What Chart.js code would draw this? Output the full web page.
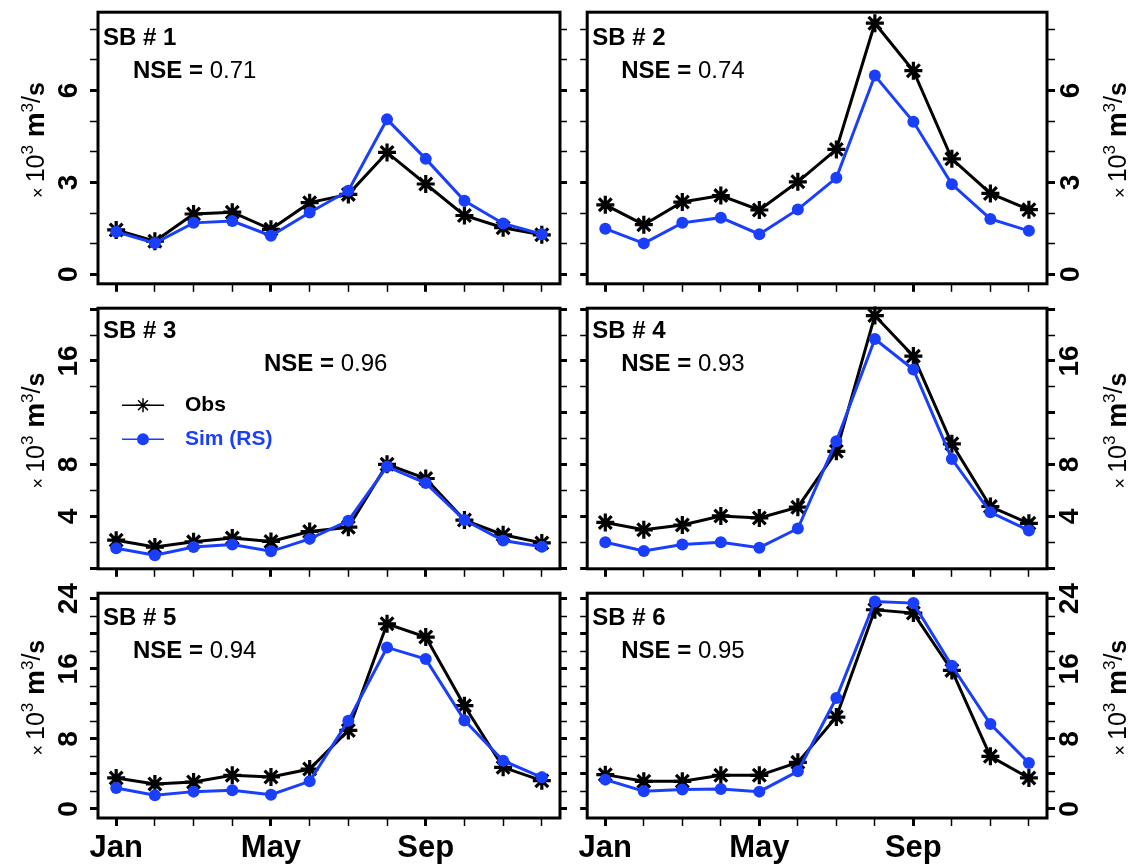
<!DOCTYPE html>
<html>
<head>
<meta charset="utf-8">
<script src="https://cdn.jsdelivr.net/npm/chart.js@4.4.1/dist/chart.umd.min.js"></script>
<style>
  html, body { margin: 0; padding: 0; background: #fff; }
  body { width: 1148px; height: 865px; position: relative; overflow: hidden; }
  canvas { position: absolute; }
</style>
</head>
<body>
<script>
// months on the x axis
const months = [1, 2, 3, 4, 5, 6, 7, 8, 9, 10, 11, 12];
const monthNames = ["Jan", "Feb", "Mar", "Apr", "May", "Jun", "Jul", "Aug", "Sep", "Oct", "Nov", "Dec"];
const labeledMonths = [1, 5, 9];

// discharge, x 10^3 m3/s
const sb1Obs = [1.45, 1.08, 1.97, 2.03, 1.47, 2.34, 2.61, 3.98, 2.95, 1.92, 1.52, 1.29];
const sb1Sim = [1.39, 1.02, 1.68, 1.74, 1.26, 2.02, 2.73, 5.06, 3.77, 2.40, 1.66, 1.31];
const sb2Obs = [2.27, 1.62, 2.36, 2.57, 2.10, 3.02, 4.08, 8.20, 6.65, 3.77, 2.64, 2.11];
const sb2Sim = [1.49, 1.01, 1.68, 1.85, 1.31, 2.12, 3.15, 6.49, 4.98, 2.94, 1.81, 1.42];
const sb3Obs = [2.16, 1.63, 2.03, 2.33, 2.06, 2.83, 3.16, 8.02, 6.92, 3.71, 2.58, 1.95];
const sb3Sim = [1.53, 1.00, 1.63, 1.83, 1.30, 2.26, 3.66, 7.84, 6.57, 3.71, 2.13, 1.65];
const sb4Obs = [3.53, 2.96, 3.33, 4.03, 3.88, 4.71, 9.02, 19.5, 16.37, 9.6, 4.76, 3.46];
const sb4Sim = [2.00, 1.33, 1.83, 2.00, 1.58, 3.06, 9.8, 17.69, 15.34, 8.42, 4.31, 2.91];
const sb5Obs = [3.54, 2.85, 3.08, 3.84, 3.65, 4.56, 8.97, 21.14, 19.62, 11.79, 4.75, 3.23];
const sb5Sim = [2.40, 1.56, 1.98, 2.13, 1.63, 3.16, 10.08, 18.44, 17.11, 10.11, 5.51, 3.61];
const sb6Obs = [3.92, 3.16, 3.16, 3.84, 3.84, 5.32, 10.49, 22.74, 22.36, 15.82, 6.01, 3.54];
const sb6Sim = [3.35, 2.02, 2.21, 2.28, 1.98, 4.30, 12.66, 23.69, 23.5, 16.35, 9.70, 5.25];

const panelNames = ["SB # 1", "SB # 2", "SB # 3", "SB # 4", "SB # 5", "SB # 6"];
const nseValues = ["0.71", "0.74", "0.96", "0.93", "0.94", "0.95"];
const seriesNames = ["Obs", "Sim (RS)"];

// y axis per row
const rowYMin = [-0.31, -0.05, -1.03];
const rowYMax = [8.56, 20.07, 24.63];
const rowTickStep = [1, 2, 2];
const rowTickLabels = [[0, 3, 6], [4, 8, 16], [0, 8, 16, 24]];
const rowMajorTicks = [[0, 3, 6], [0, 4, 8, 12, 16, 20], [0, 4, 8, 12, 16, 20, 24]];

const obsSeries = [sb1Obs, sb2Obs, sb3Obs, sb4Obs, sb5Obs, sb6Obs];
const simSeries = [sb1Sim, sb2Sim, sb3Sim, sb4Sim, sb5Sim, sb6Sim];

const FONT = '"Liberation Sans", Arial, sans-serif';
const BLUE = "#1a3ffc";
Chart.defaults.font.family = FONT;

// page layout
const cols = [
  { left: 0, width: 575, axL: 98, axR: 15, side: "left", titleX: 44, tickPad: [13, 5] },
  { left: 575, width: 573, axL: 12, axR: 101, side: "right", titleX: 551, tickPad: [8, 0] }
];
const rows = [
  { top: 0, height: 296, pad: 5, xh: 11, nameDy: 33, nseDy: 66 },
  { top: 296, height: 285, pad: 6, xh: 11, nameDy: 30, nseDy: 63 },
  { top: 581, height: 284, pad: 12, xh: 47, nameDy: 32, nseDy: 65 }
];

function drawStar(ctx, x, y, r) {
  ctx.beginPath();
  for (let k = 0; k < 4; k++) {
    const a = k * Math.PI / 4;
    ctx.moveTo(x - r * Math.cos(a), y - r * Math.sin(a));
    ctx.lineTo(x + r * Math.cos(a), y + r * Math.sin(a));
  }
  ctx.stroke();
}

function drawYTitle(ctx, bx, cy) {
  const segs = [
    ["\u00d7 ", "normal 18px", 0],
    ["10", "normal 25px", 0],
    ["3", "normal 17px", 11],
    [" m", "bold 28px", 0],
    ["3", "normal 17px", 11],
    ["/", "normal 25px", 4],
    ["s", "bold 25px", 0]
  ];
  ctx.save();
  ctx.translate(bx, cy);
  ctx.rotate(-Math.PI / 2);
  ctx.textBaseline = "alphabetic";
  ctx.textAlign = "left";
  let total = 0;
  segs.forEach(s => { ctx.font = s[1] + " " + FONT; total += ctx.measureText(s[0]).width; });
  let x = -total / 2;
  segs.forEach(s => {
    ctx.font = s[1] + " " + FONT;
    ctx.fillText(s[0], x, -s[2]);
    x += ctx.measureText(s[0]).width;
  });
  ctx.restore();
}

const decor = {
  id: "decor",
  afterDraw(chart, args, o) {
    const { ctx, chartArea: a } = chart;
    ctx.save();
    ctx.strokeStyle = "#000";
    ctx.lineWidth = 3;
    ctx.strokeRect(a.left, a.top, a.right - a.left, a.bottom - a.top);

    ctx.fillStyle = "#000";
    ctx.textBaseline = "alphabetic";
    ctx.textAlign = "left";
    ctx.font = "bold 24px " + FONT;
    ctx.fillText(o.name, a.left + 5, a.top + o.nameDy);

    ctx.font = "bold 24px " + FONT;
    const lead = "NSE = ";
    ctx.fillText(lead, a.left + o.nseDx, a.top + o.nseDy);
    const w = ctx.measureText(lead).width;
    ctx.font = "normal 24px " + FONT;
    ctx.fillText(o.nse, a.left + o.nseDx + w, a.top + o.nseDy);

    if (o.legend) {
      const lx = a.left + 24, ly1 = a.top + 97, ly2 = a.top + 131;
      ctx.lineWidth = 1.5;
      ctx.strokeStyle = "#000";
      ctx.beginPath(); ctx.moveTo(lx, ly1); ctx.lineTo(lx + 42, ly1); ctx.stroke();
      drawStar(ctx, lx + 21, ly1, 7);
      ctx.strokeStyle = BLUE;
      ctx.beginPath(); ctx.moveTo(lx, ly2); ctx.lineTo(lx + 42, ly2); ctx.stroke();
      ctx.fillStyle = BLUE;
      ctx.beginPath(); ctx.arc(lx + 21, ly2, 6, 0, Math.PI * 2); ctx.fill();
      ctx.font = "bold 21px " + FONT;
      ctx.textBaseline = "middle";
      ctx.fillStyle = "#000";
      ctx.fillText(seriesNames[0], lx + 63, ly1);
      ctx.fillStyle = BLUE;
      ctx.fillText(seriesNames[1], lx + 63, ly2);
    }

    ctx.fillStyle = "#000";
    drawYTitle(ctx, o.titleX, (a.top + a.bottom) / 2 - 8);
    ctx.restore();
  }
};

function makePanel(idx) {
  const r = Math.floor(idx / 2), c = idx % 2;
  const col = cols[c], row = rows[r];
  const canvas = document.createElement("canvas");
  canvas.width = col.width;
  canvas.height = row.height;
  canvas.style.left = col.left + "px";
  canvas.style.top = row.top + "px";
  document.body.appendChild(canvas);

  const labelSide = col.side;
  const otherSide = col.side === "left" ? "right" : "left";
  const labelW = col.side === "left" ? col.axL : col.axR;
  const otherW = col.side === "left" ? col.axR : col.axL;
  const isMajor = ctx => rowMajorTicks[r].includes(ctx.tick.value);

  const yCommon = {
    type: "linear",
    min: rowYMin[r],
    max: rowYMax[r],
    border: { display: false },
    grid: {
      drawOnChartArea: false,
      tickLength: 8,
      tickColor: "#000",
      tickWidth: ctx => isMajor(ctx) ? 3 : 1.5
    }
  };

  const toXY = arr => months.map((m, i) => ({ x: m, y: arr[i] }));

  new Chart(canvas, {
    type: "line",
    data: {
      datasets: [
        {
          label: seriesNames[0],
          data: toXY(obsSeries[idx]),
          borderColor: "#000",
          backgroundColor: "#000",
          borderWidth: 3,
          pointStyle: "star",
          pointRadius: 9,
          pointBorderWidth: 3.2,
          pointBorderColor: "#000",
          tension: 0,
          clip: false,
          order: 2
        },
        {
          label: seriesNames[1],
          data: toXY(simSeries[idx]),
          borderColor: BLUE,
          backgroundColor: BLUE,
          borderWidth: 3,
          pointStyle: "circle",
          pointRadius: 6,
          pointBorderWidth: 0,
          pointBackgroundColor: BLUE,
          tension: 0,
          clip: false,
          order: 1
        }
      ]
    },
    options: {
      responsive: false,
      animation: false,
      events: [],
      layout: { padding: { top: row.pad, left: 0, right: 0, bottom: 0 } },
      plugins: {
        legend: { display: false },
        tooltip: { enabled: false },
        decor: {
          name: panelNames[idx],
          nse: nseValues[idx],
          nameDy: row.nameDy,
          nseDy: row.nseDy,
          nseDx: idx === 2 ? 166 : (c === 0 ? 35 : 34),
          legend: idx === 2,
          titleX: col.titleX
        }
      },
      scales: {
        x: {
          type: "linear",
          position: "bottom",
          min: 0.53,
          max: 12.47,
          afterFit: s => { s.height = row.xh; s.paddingLeft = 0; s.paddingRight = 0; },
          border: { display: false },
          grid: {
            drawOnChartArea: false,
            tickLength: 8,
            tickColor: "#000",
            tickWidth: ctx => labeledMonths.includes(ctx.tick.value) ? 3 : 1.5
          },
          ticks: {
            stepSize: 1,
            autoSkip: false,
            includeBounds: false,
            minRotation: 0,
            maxRotation: 0,
            padding: 4,
            color: "#000",
            font: { size: 31, weight: "bold" },
            callback: v => (r === 2 && labeledMonths.includes(v)) ? monthNames[v - 1] : ""
          }
        },
        y: Object.assign({}, yCommon, {
          position: labelSide,
          afterFit: s => { s.width = labelW; s.paddingTop = 0; s.paddingBottom = 0; },
          ticks: {
            stepSize: rowTickStep[r],
            autoSkip: false,
            includeBounds: false,
            minRotation: 90,
            maxRotation: 90,
            crossAlign: "center",
            padding: col.tickPad[r === 0 ? 0 : 1],
            color: "#000",
            font: { size: 28, weight: "bold" },
            callback: v => rowTickLabels[r].includes(v) ? String(v) : ""
          }
        }),
        y2: Object.assign({}, yCommon, {
          position: otherSide,
          afterFit: s => { s.width = otherW; s.paddingTop = 0; s.paddingBottom = 0; },
          grid: Object.assign({}, yCommon.grid, { tickLength: 7 }),
          ticks: {
            stepSize: rowTickStep[r],
            autoSkip: false,
            includeBounds: false,
            display: false
          }
        })
      }
    },
    plugins: [decor]
  });
}

for (let i = 0; i < 6; i++) makePanel(i);
</script>
</body>
</html>
